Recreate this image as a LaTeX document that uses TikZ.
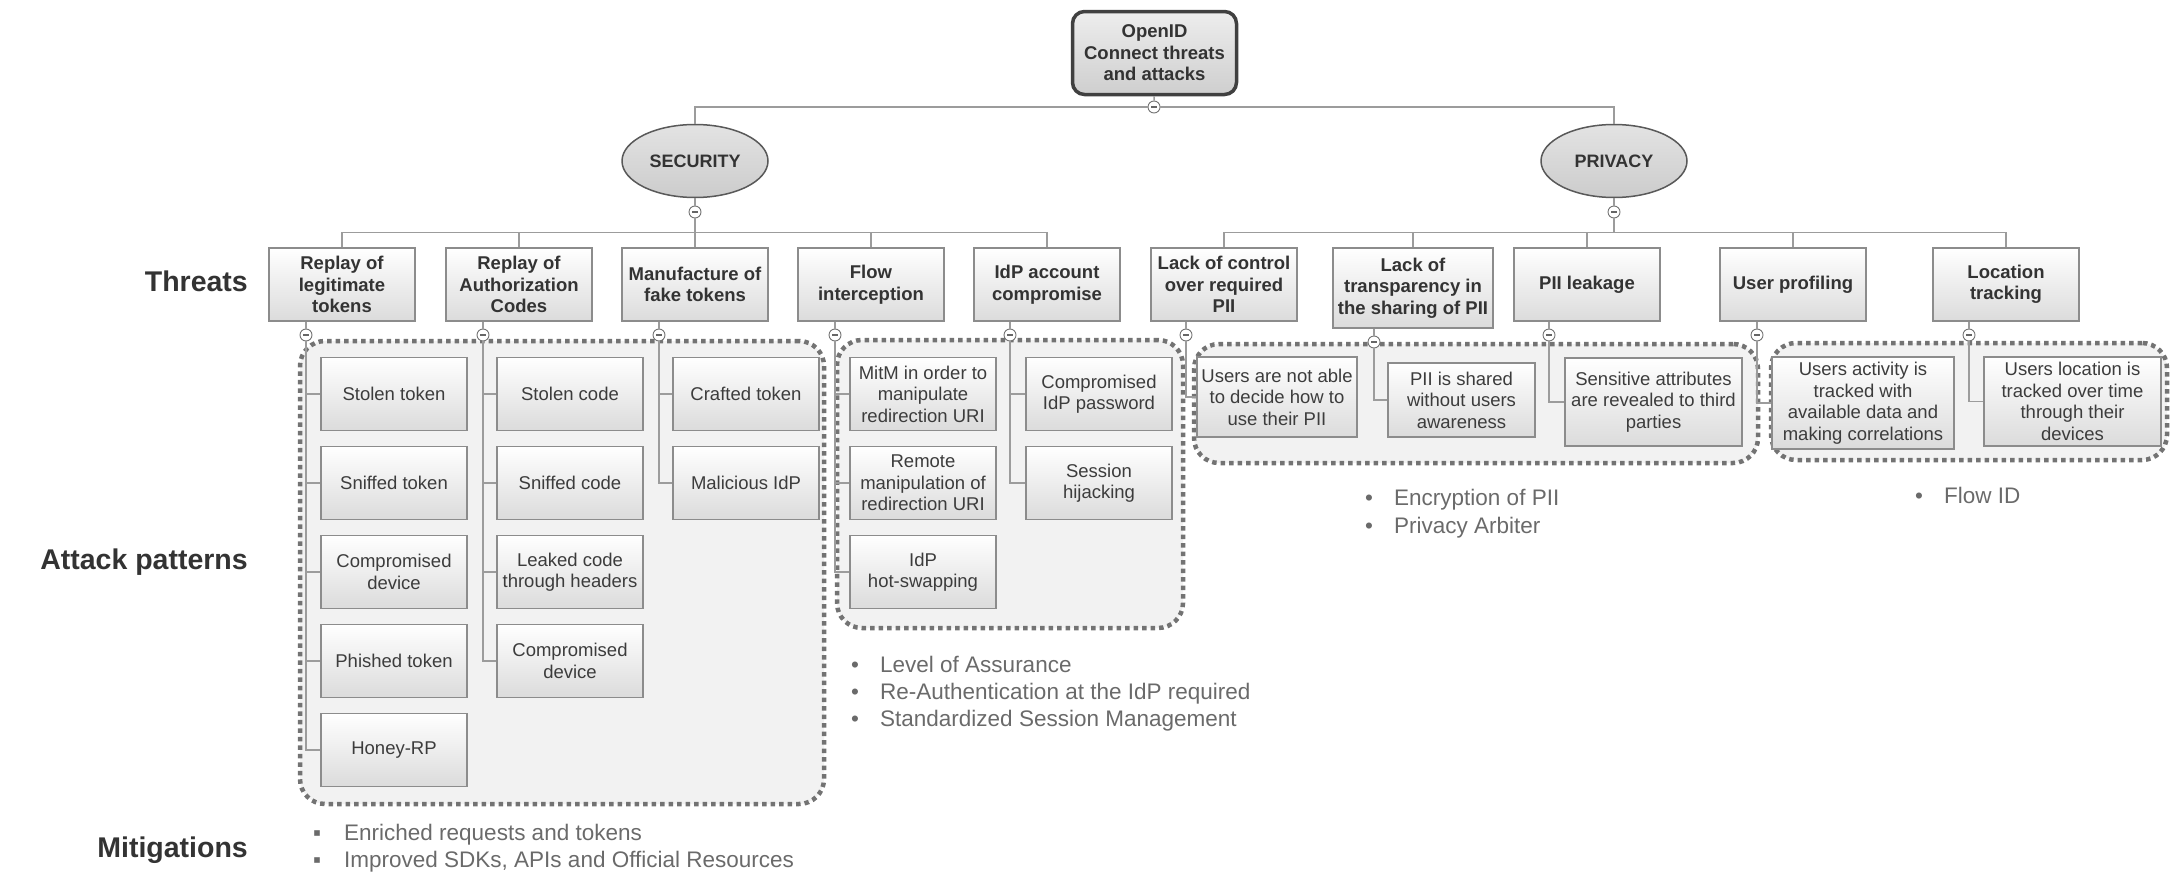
\documentclass[tikz,border=0pt]{standalone}
\usepackage{fontspec}
\setmainfont{Liberation Sans}
\usetikzlibrary{shapes.geometric}

\definecolor{labeltext}{HTML}{333333}
\definecolor{boxtext}{HTML}{3C3C3C}
\definecolor{mitigtext}{HTML}{6A6A6A}
\definecolor{boxline}{HTML}{8C8C8C}
\definecolor{linkline}{HTML}{9C9C9C}

\newcommand{\mitbullet}{\makebox[29pt][l]{\textbullet}}
\newcommand{\mitsquare}{\makebox[31pt][l]{▪}}

\begin{document}
\begin{tikzpicture}[x=1pt,y=-1pt]
\tikzstyle{rootbox}=[rectangle, rounded corners=12pt, draw=black!75, line width=3.5pt, top color=black!7, bottom color=black!19, minimum width=164pt, minimum height=83pt, align=center, text=labeltext, font=\fontsize{18.5}{21.5}\selectfont\bfseries]
\tikzstyle{branch}=[ellipse, draw=black!65, line width=1.5pt, top color=black!11, bottom color=black!20, minimum width=146pt, minimum height=73pt, inner sep=0pt, text=labeltext, font=\fontsize{18}{21}\selectfont\bfseries]
\tikzstyle{threat}=[rectangle, draw=boxline, line width=1.2pt, top color=white, bottom color=black!14, minimum width=146pt, minimum height=73pt, inner sep=2pt, align=center, text=labeltext, font=\fontsize{18.5}{21.5}\selectfont\bfseries]
\tikzstyle{attack}=[rectangle, draw=boxline, line width=1.2pt, top color=white, bottom color=black!14, minimum width=146pt, minimum height=73pt, inner sep=2pt, align=center, text=boxtext, font=\fontsize{18.5}{21.5}\selectfont]
\tikzstyle{cluster}=[rectangle, rounded corners=25pt, draw=black!55, fill=black!5, line width=4.5pt, dash pattern=on 4.5pt off 4pt, inner sep=0pt]
\tikzstyle{toggle}=[circle, draw=black!55, fill=white, line width=0.9pt, minimum size=12pt, inner sep=0pt, path picture={\draw[black!60, line width=1.3pt] ([xshift=-3pt]path picture bounding box.center) -- ([xshift=3pt]path picture bounding box.center);}]
\tikzstyle{conn}=[draw=linkline, line width=1.6pt]
\tikzstyle{rowlabel}=[anchor=base east, inner sep=0pt, text=labeltext, font=\fontsize{28.5}{32}\selectfont\bfseries]
\tikzstyle{mitig}=[anchor=base west, inner sep=0pt, text=mitigtext, font=\fontsize{22.5}{27.5}\selectfont]

\useasboundingbox (0,0) rectangle (2182,886);

\node[rowlabel] (l_threats) at (248,291) {Threats};
\node[rowlabel] (l_attacks) at (248,569) {Attack patterns};
\node[rowlabel] (l_mitig) at (248,857) {Mitigations};

\node[rootbox] (root) at (1154.5,53) {OpenID\\Connect threats\\and attacks};
\node[toggle] (c_root) at (1154,107) {};

\node[branch] (sec) at (695,161) {SECURITY};
\node[branch] (prv) at (1614,161) {PRIVACY};
\node[toggle] (c_sec) at (695,212) {};
\node[toggle] (c_prv) at (1614,212) {};

\node[cluster, minimum width=524pt, minimum height=463pt] (r_1) at (562,572.5) {};
\node[cluster, minimum width=346pt, minimum height=288pt] (r_2) at (1010,484) {};
\node[cluster, minimum width=564pt, minimum height=119pt] (r_3) at (1476,403.5) {};
\node[cluster, minimum width=396pt, minimum height=117pt] (r_4) at (1969,401.5) {};

\node[threat] (t_1) at (342,284.5) {Replay of\\legitimate\\tokens};
\node[threat] (t_2) at (519,284.5) {Replay of\\Authorization\\Codes};
\node[threat] (t_3) at (695,284.5) {Manufacture of\\fake tokens};
\node[threat] (t_4) at (871,284.5) {Flow\\interception};
\node[threat] (t_5) at (1047,284.5) {IdP account\\compromise};
\node[threat] (t_6) at (1224,284.5) {Lack of control\\over required\\PII};
\node[threat, minimum width=160pt, minimum height=80pt] (t_7) at (1413,288) {Lack of\\transparency in\\the sharing of PII};
\node[threat] (t_8) at (1587,284.5) {PII leakage};
\node[threat] (t_9) at (1793,284.5) {User profiling};
\node[threat] (t_10) at (2006,284.5) {Location\\tracking};

\node[toggle] (c_1) at (306,335) {};
\node[toggle] (c_2) at (483,335) {};
\node[toggle] (c_3) at (659,335) {};
\node[toggle] (c_4) at (835,335) {};
\node[toggle] (c_5) at (1010,335) {};
\node[toggle] (c_6) at (1186,335) {};
\node[toggle] (c_7) at (1374,342) {};
\node[toggle] (c_8) at (1549,335) {};
\node[toggle] (c_9) at (1757,335) {};
\node[toggle] (c_10) at (1969,335) {};

\node[attack] (a_1_1) at (394,394) {Stolen token};
\node[attack] (a_1_2) at (394,483) {Sniffed token};
\node[attack] (a_1_3) at (394,572) {Compromised\\device};
\node[attack] (a_1_4) at (394,661) {Phished token};
\node[attack] (a_1_5) at (394,750) {Honey-RP};

\node[attack] (a_2_1) at (570,394) {Stolen code};
\node[attack] (a_2_2) at (570,483) {Sniffed code};
\node[attack] (a_2_3) at (570,572) {Leaked code\\through headers};
\node[attack] (a_2_4) at (570,661) {Compromised\\device};

\node[attack] (a_3_1) at (746,394) {Crafted token};
\node[attack] (a_3_2) at (746,483) {Malicious IdP};

\node[attack] (a_4_1) at (923,394) {MitM in order to\\manipulate\\redirection URI};
\node[attack] (a_4_2) at (923,483) {Remote\\manipulation of\\redirection URI};
\node[attack] (a_4_3) at (923,572) {IdP\\hot-swapping};

\node[attack] (a_5_1) at (1099,394) {Compromised\\IdP password};
\node[attack] (a_5_2) at (1099,483) {Session\\hijacking};

\node[attack, minimum width=160pt, minimum height=80pt] (a_6_1) at (1277,397) {Users are not able\\to decide how to\\use their PII};
\node[attack, minimum width=147pt, minimum height=74pt] (a_7_1) at (1461.5,400) {PII is shared\\without users\\awareness};
\node[attack, minimum width=177pt, minimum height=88pt] (a_8_1) at (1653.5,402) {Sensitive attributes\\are revealed to third\\parties};
\node[attack, minimum width=182pt, minimum height=92pt] (a_9_1) at (1863,403) {Users activity is\\tracked with\\available data and\\making correlations};
\node[attack, minimum width=177pt, minimum height=89pt] (a_10_1) at (2072.5,401.5) {Users location is\\tracked over time\\through their\\devices};

\node[mitig] (m_1_1) at (313,840) {\mitsquare Enriched requests and tokens};
\node[mitig] (m_1_2) at (313,867) {\mitsquare Improved SDKs, APIs and Official Resources};
\node[mitig] (m_2_1) at (851,672) {\mitbullet Level of Assurance};
\node[mitig] (m_2_2) at (851,699) {\mitbullet Re-Authentication at the IdP required};
\node[mitig] (m_2_3) at (851,726) {\mitbullet Standardized Session Management};
\node[mitig] (m_3_1) at (1365,505) {\mitbullet Encryption of PII};
\node[mitig] (m_3_2) at (1365,533) {\mitbullet Privacy Arbiter};
\node[mitig] (m_4_1) at (1915,503) {\mitbullet Flow ID};

\draw[conn] (root) -- (c_root);
\draw[conn] (sec.north) |- (c_root.west);
\draw[conn] (prv.north) |- (c_root.east);
\draw[conn] (sec) -- (c_sec);
\draw[conn] (prv) -- (c_prv);

\draw[conn] (c_sec) -- (t_3);
\draw[conn] (t_1.north) -- ++(0,-15) -| (t_5.north);
\draw[conn] (t_2.north) -- ++(0,-15);
\draw[conn] (t_4.north) -- ++(0,-15);

\draw[conn] (c_prv.south) -- ++(0,15);
\draw[conn] (t_6.north) -- ++(0,-15) -| (t_10.north);
\draw[conn] (t_7.north) -- ++(0,-15);
\draw[conn] (t_8.north) -- ++(0,-15);
\draw[conn] (t_9.north) -- ++(0,-15);

\draw[conn] (c_1.north) -- (c_1.north |- t_1.south);
\draw[conn] (c_2.north) -- (c_2.north |- t_2.south);
\draw[conn] (c_3.north) -- (c_3.north |- t_3.south);
\draw[conn] (c_4.north) -- (c_4.north |- t_4.south);
\draw[conn] (c_5.north) -- (c_5.north |- t_5.south);
\draw[conn] (c_6.north) -- (c_6.north |- t_6.south);
\draw[conn] (c_7.north) -- (c_7.north |- t_7.south);
\draw[conn] (c_8.north) -- (c_8.north |- t_8.south);
\draw[conn] (c_9.north) -- (c_9.north |- t_9.south);
\draw[conn] (c_10.north) -- (c_10.north |- t_10.south);

\draw[conn] (c_1.south) |- (a_1_1.west);
\draw[conn] (c_1.south) |- (a_1_2.west);
\draw[conn] (c_1.south) |- (a_1_3.west);
\draw[conn] (c_1.south) |- (a_1_4.west);
\draw[conn] (c_1.south) |- (a_1_5.west);

\draw[conn] (c_2.south) |- (a_2_1.west);
\draw[conn] (c_2.south) |- (a_2_2.west);
\draw[conn] (c_2.south) |- (a_2_3.west);
\draw[conn] (c_2.south) |- (a_2_4.west);

\draw[conn] (c_3.south) |- (a_3_1.west);
\draw[conn] (c_3.south) |- (a_3_2.west);

\draw[conn] (c_4.south) |- (a_4_1.west);
\draw[conn] (c_4.south) |- (a_4_2.west);
\draw[conn] (c_4.south) |- (a_4_3.west);

\draw[conn] (c_5.south) |- (a_5_1.west);
\draw[conn] (c_5.south) |- (a_5_2.west);

\draw[conn] (c_6.south) |- (a_6_1.west);
\draw[conn] (c_7.south) |- (a_7_1.west);
\draw[conn] (c_8.south) |- (a_8_1.west);
\draw[conn] (c_9.south) |- (a_9_1.west);
\draw[conn] (c_10.south) |- (a_10_1.west);

\end{tikzpicture}
\end{document}
